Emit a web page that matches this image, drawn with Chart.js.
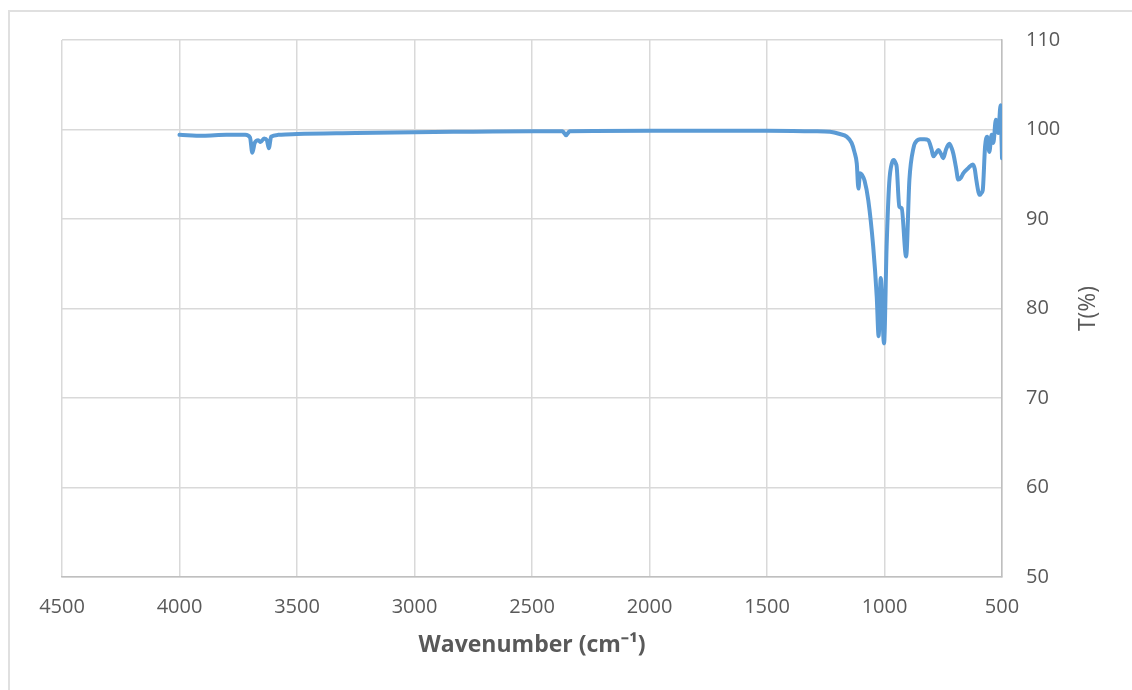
<!DOCTYPE html>
<html>
<head>
<meta charset="utf-8">
<title>FTIR spectrum</title>
<script src="https://cdn.jsdelivr.net/npm/chart.js@4.4.0/dist/chart.umd.min.js"></script>
<style>
  body { margin: 0; background: #fff; }
  #frame { position: absolute; left: 8px; top: 10px; width: 1200px; height: 800px; border: 2px solid #e0e0e0; }
  #wrap { position: absolute; left: 0; top: 0; width: 1132px; height: 690px; }
</style>
</head>
<body>
<div id="frame"></div>
<div id="wrap"><canvas id="irChart" width="1132" height="690"></canvas></div>
<script>
// wavenumber (cm-1) and transmittance (%)
var wavenumbers = [
  4000, 3900, 3800, 3720, 3700, 3690, 3680, 3665, 3655, 3640, 3628, 3620, 3610, 3580,
  3500, 3250, 3000, 2750, 2500, 2370, 2355, 2340, 2000, 1750, 1500, 1300,
  1232, 1190, 1161, 1140, 1128, 1118, 1111, 1104, 1095, 1085, 1069, 1048, 1033, 1025,
  1016, 1002, 991, 980, 968, 960, 952, 948, 937, 927, 908, 894, 877, 860, 849,
  830, 814, 800, 792, 780, 771, 760, 750, 738, 724, 714, 707, 696, 686, 675,
  665, 643, 624, 616, 610, 600, 594, 588, 582, 572, 563, 554, 544, 537, 526,
  516, 506, 502, 500
];
var transmittance = [
  99.4, 99.3, 99.4, 99.4, 99.1, 97.4, 98.5, 98.8, 98.6, 99.0, 98.8, 97.9, 99.2, 99.4,
  99.5, 99.6, 99.7, 99.75, 99.8, 99.8, 99.35, 99.8, 99.85, 99.85, 99.85, 99.8,
  99.75, 99.5, 99.2, 98.5, 97.5, 96.2, 93.4, 95.1, 94.9, 94.3, 92.1, 86.9, 81.3, 76.9,
  83.4, 76.1, 86.9, 94.0, 96.3, 96.6, 96.2, 95.8, 91.4, 91.2, 85.8, 94.4, 97.9, 98.8, 98.9,
  98.9, 98.8, 97.8, 97.0, 97.4, 97.7, 97.3, 96.8, 97.8, 98.4, 97.9, 97.3, 95.8, 94.4, 94.6,
  95.1, 95.7, 96.1, 95.6, 94.5, 93.0, 92.7, 92.9, 93.2, 98.1, 99.2, 97.5, 99.4, 98.5, 101.1,
  99.6, 102.7, 98.8, 96.8
];

var xMin = 500, xMax = 4500, xStep = 500;
var yMin = 50, yMax = 110, yStep = 10;
var xTitle = 'Wavenumber (cm⁻¹)';
var yTitle = 'T(%)';

var points = wavenumbers.map(function (w, i) {
  return { x: w, y: transmittance[i] };
});

// right-hand axis title, written bottom to top like the original
var yTitlePlugin = {
  id: 'yTitle',
  afterDraw: function (chart) {
    var ctx = chart.ctx;
    var area = chart.chartArea;
    ctx.save();
    ctx.translate(chart.scales.y.right - 44, (area.top + area.bottom) / 2);
    ctx.rotate(-Math.PI / 2);
    ctx.font = '23px "Open Sans"';
    ctx.fillStyle = '#595959';
    ctx.textAlign = 'center';
    ctx.textBaseline = 'middle';
    ctx.fillText(yTitle, 0, 0);
    ctx.restore();
  }
};

var irChart = new Chart(document.getElementById('irChart'), {
  type: 'line',
  data: {
    datasets: [{
      data: points,
      borderColor: '#5b9bd5',
      borderWidth: 4,
      borderJoinStyle: 'round',
      borderCapStyle: 'round',
      pointRadius: 0,
      cubicInterpolationMode: 'monotone',
      fill: false
    }]
  },
  options: {
    responsive: false,
    animation: false,
    devicePixelRatio: 1,
    layout: { padding: { left: 62, top: 40, right: 0, bottom: 0 } },
    plugins: { legend: { display: false }, tooltip: { enabled: false } },
    scales: {
      x: {
        type: 'linear',
        reverse: true,
        min: xMin,
        max: xMax,
        afterFit: function (scale) { scale.height = 113; },
        ticks: {
          stepSize: xStep,
          padding: 18,
          color: '#595959',
          font: { family: 'Open Sans', size: 20 },
          callback: function (v) { return String(v); }
        },
        grid: { color: '#d9d9d9', lineWidth: 1.5, drawTicks: false },
        border: { color: '#bfbfbf', width: 1.5 },
        title: {
          display: true,
          text: xTitle,
          color: '#595959',
          font: { family: 'Open Sans', size: 23, weight: 'bold' },
          padding: { top: 0, bottom: 31 }
        }
      },
      y: {
        position: 'right',
        min: yMin,
        max: yMax,
        afterFit: function (scale) { scale.width = 130; },
        ticks: {
          stepSize: yStep,
          padding: 24,
          color: '#595959',
          font: { family: 'Open Sans', size: 20 }
        },
        grid: { color: '#d9d9d9', lineWidth: 1.5, drawTicks: false },
        border: { color: '#bfbfbf', width: 1.5 }
      }
    }
  },
  plugins: [yTitlePlugin]
});
</script>
</body>
</html>
